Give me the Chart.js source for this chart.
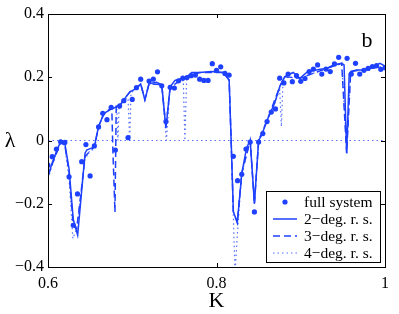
<!DOCTYPE html>
<html>
<head>
<meta charset="utf-8">
<script src="https://cdn.jsdelivr.net/npm/chart.js@4.4.1/dist/chart.umd.min.js"></script>
<style>
  html, body { margin: 0; padding: 0; background: #fff; }
  #wrap { width: 399px; height: 314px; }
</style>
</head>
<body>
<div id="wrap"><canvas id="chart" width="399" height="314"></canvas></div>
<script>
// full system (dots), K step 0.005 from 0.6 to 1 (null = no dot visible)
const fullK = [0.600,0.605,0.610,0.615,0.620,0.625,0.630,0.635,0.640,0.645,0.650,0.655,0.660,0.665,0.670,0.675,0.680,0.685,0.690,0.695,
  0.700,0.705,0.710,0.715,0.720,0.725,0.730,0.735,0.740,0.745,0.750,0.755,0.760,0.765,0.770,0.775,0.780,0.785,0.790,0.795,
  0.800,0.805,0.810,0.815,0.820,0.825,0.830,0.835,0.840,0.845,0.850,0.855,0.860,0.865,0.870,0.875,0.880,0.885,0.890,0.895,
  0.900,0.905,0.910,0.915,0.920,0.925,0.930,0.935,0.940,0.945,0.950,0.955,0.960,0.965,0.970,0.975,0.980,0.985,0.990,0.995,1.000];
const fullL = [-0.078,-0.051,-0.027,-0.004,-0.006,-0.115,-0.268,-0.169,-0.067,-0.013,-0.112,-0.017,0.043,0.086,0.066,0.105,-0.030,0.109,0.126,0.009,
  0.130,0.167,0.194,null,0.188,0.194,0.217,0.173,0.060,0.168,0.166,0.189,0.197,0.199,0.205,0.207,0.194,0.190,0.190,0.243,
  0.222,0.233,0.212,0.207,-0.050,-0.127,-0.107,-0.027,-0.005,-0.226,-0.005,0.022,0.060,0.090,0.100,0.197,0.182,0.210,0.186,0.205,
  0.187,0.196,0.218,0.226,0.239,0.210,0.226,0.218,0.242,0.263,null,0.260,0.210,0.244,0.210,0.222,0.228,0.234,0.237,0.225,0.230];

// 2-deg. reduced system (solid)
const deg2K = [0.600,0.605,0.610,0.6155,0.618,0.620,0.625,0.630,0.6352,0.639,0.644,0.646,0.655,0.660,0.6665,0.6736,0.6855,0.6914,0.6973,0.705,
  0.710,0.715,0.720,0.729,0.735,0.740,0.745,0.7507,0.7646,0.7705,0.780,0.794,0.808,0.812,0.815,0.8175,0.820,0.8247,0.830,0.8358,
  0.840,0.845,0.850,0.8536,0.861,0.869,0.875,0.881,0.891,0.899,0.907,0.915,0.923,0.931,0.9387,0.9486,0.9514,0.9545,0.9575,0.9593,
  0.966,0.974,0.982,0.994,1.000];
const deg2L = [-0.115,-0.070,-0.035,0.000,-0.007,-0.010,-0.090,-0.250,-0.299,-0.188,-0.040,-0.030,-0.020,0.044,0.086,0.097,0.112,0.134,0.154,0.165,
  0.179,0.128,0.180,0.184,0.176,0.039,0.170,0.190,0.200,0.215,0.215,0.218,0.215,0.202,0.191,-0.009,-0.225,-0.259,-0.104,-0.022,
  0.000,-0.200,0.000,0.017,0.070,0.118,0.170,0.202,0.215,0.197,0.215,0.221,0.225,0.228,0.239,0.244,0.239,-0.040,0.210,0.218,
  0.223,0.223,0.228,0.244,0.235];

// 3-deg. reduced system (dashed)
const deg3K = [0.600,0.610,0.6155,0.620,0.625,0.630,0.634,0.639,0.644,0.655,0.660,0.6665,0.6736,0.6757,0.677,0.6795,0.681,0.6855,0.6914,0.6973,
  0.705,0.710,0.715,0.720,0.735,0.740,0.745,0.7646,0.780,0.808,0.815,0.8175,0.820,0.8247,0.830,0.840,0.845,0.850,0.861,0.875,
  0.881,0.899,0.931,0.9486,0.9545,0.9593,1.000];
const deg3L = [-0.110,-0.040,-0.005,-0.015,-0.100,-0.270,-0.280,-0.170,-0.050,-0.020,0.044,0.086,0.100,0.105,-0.030,-0.227,0.110,0.112,0.134,0.154,
  0.165,0.179,0.130,0.180,0.176,0.040,0.170,0.200,0.215,0.215,0.191,-0.010,-0.225,-0.260,-0.104,0.000,-0.200,0.000,0.070,0.170,
  0.202,0.197,0.228,0.244,-0.040,0.218,0.235];

// 4-deg. reduced system (dotted)
const deg4K = [0.600,0.610,0.6155,0.620,0.625,0.6295,0.634,0.639,0.644,0.650,0.655,0.660,0.6665,0.6736,0.6815,0.683,0.6845,0.6914,0.695,0.697,
  0.6985,0.705,0.710,0.715,0.720,0.735,0.7405,0.745,0.7606,0.7625,0.7646,0.780,0.808,0.815,0.8175,0.822,0.8247,0.830,0.840,0.845,
  0.850,0.861,0.869,0.875,0.877,0.879,0.881,0.899,0.931,0.9486,0.9545,0.9593,1.000];
const deg4L = [-0.120,-0.040,-0.005,-0.020,-0.120,-0.310,-0.280,-0.170,-0.060,-0.030,-0.030,0.040,0.085,0.100,0.110,0.000,0.118,0.130,0.135,0.000,
  0.150,0.165,0.179,0.130,0.180,0.176,0.000,0.170,0.190,0.000,0.200,0.215,0.215,0.191,-0.020,-0.420,-0.300,-0.104,0.000,-0.200,
  0.000,0.070,0.118,0.160,0.044,0.190,0.200,0.197,0.228,0.244,-0.030,0.218,0.235];

const zeroK = [0.6, 1.0];
const zeroL = [0, 0];

const xTicks = [0.6, 0.8, 1.0];
const yTicks = [-0.4, -0.2, 0, 0.2, 0.4];

const legendNames = ["full system", "2\u2212deg. r. s.", "3\u2212deg. r. s.", "4\u2212deg. r. s."];

const blue = "rgb(30,64,255)";
const lightBlue = "rgba(30,64,255,0.75)";
const serif = "'Liberation Serif', 'DejaVu Serif', serif";

function pts(xs, ys) {
    return xs.map((x, i) => ({ x: x, y: ys[i] }));
}

function fmt(v) {
    if (Math.abs(v) < 1e-9) return "0";
    if (Math.abs(v - 1) < 1e-9) return "1";
    const s = Math.abs(v).toFixed(1);
    return v < 0 ? "\u2212" + s : s;
}

const frame = {
    id: "frame",
    afterDraw(chart) {
        const ctx = chart.ctx;
        const a = chart.chartArea;
        const xs = chart.scales.x;
        const ys = chart.scales.y;
        ctx.save();
        ctx.strokeStyle = "#000";
        ctx.lineWidth = 1;
        ctx.strokeRect(Math.round(a.left) + 0.5, Math.round(a.top) + 0.5,
            Math.round(a.right - a.left), Math.round(a.bottom - a.top));
        // inward ticks on all four sides
        xTicks.forEach(v => {
            const px = Math.round(xs.getPixelForValue(v)) + 0.5;
            ctx.beginPath();
            ctx.moveTo(px, a.bottom); ctx.lineTo(px, a.bottom - 4);
            ctx.moveTo(px, a.top); ctx.lineTo(px, a.top + 4);
            ctx.stroke();
        });
        yTicks.forEach(v => {
            const py = Math.round(ys.getPixelForValue(v)) + 0.5;
            ctx.beginPath();
            ctx.moveTo(a.left, py); ctx.lineTo(a.left + 4, py);
            ctx.moveTo(a.right, py); ctx.lineTo(a.right - 4, py);
            ctx.stroke();
        });

        // axis labels and panel letter
        ctx.fillStyle = "#000";
        ctx.textAlign = "center";
        ctx.textBaseline = "alphabetic";
        ctx.font = "22px " + serif;
        ctx.fillText("K", (a.left + a.right) / 2, 307);
        ctx.fillText("\u03bb", 10, 147);
        ctx.fillText("b", 367, 47);

        // legend box
        const bx = 266.5, by = 191.5, bw = 114, bh = 71;
        ctx.fillStyle = "#fff";
        ctx.fillRect(bx, by, bw, bh);
        ctx.strokeStyle = "#000";
        ctx.strokeRect(bx, by, bw, bh);
        const rows = [202, 219, 236, 253];
        ctx.font = "15.5px " + serif;
        ctx.textAlign = "left";
        ctx.textBaseline = "middle";
        rows.forEach((ry, i) => {
            ctx.fillStyle = "#000";
            ctx.fillText(legendNames[i], 304, ry + 1);
            ctx.strokeStyle = i === 3 ? lightBlue : blue;
            ctx.lineWidth = i === 3 ? 1.2 : 1.5;
            if (i === 0) {
                ctx.fillStyle = blue;
                ctx.beginPath();
                ctx.arc(285, ry, 2.6, 0, Math.PI * 2);
                ctx.fill();
            } else {
                ctx.setLineDash(i === 1 ? [] : (i === 2 ? [7, 4] : [1.5, 3]));
                ctx.beginPath();
                ctx.moveTo(273, ry); ctx.lineTo(297, ry);
                ctx.stroke();
                ctx.setLineDash([]);
            }
        });
        ctx.restore();
    }
};

new Chart(document.getElementById("chart"), {
    type: "scatter",
    data: {
        datasets: [
            { label: legendNames[0], data: pts(fullK, fullL), showLine: false,
              pointRadius: 2.6, pointBackgroundColor: blue, pointBorderWidth: 0 },
            { label: legendNames[1], data: pts(deg2K, deg2L), showLine: true, borderColor: blue,
              borderWidth: 1.5, pointRadius: 0, tension: 0 },
            { label: legendNames[2], data: pts(deg3K, deg3L), showLine: true, borderColor: blue,
              borderWidth: 1.5, borderDash: [7, 4], pointRadius: 0, tension: 0 },
            { label: legendNames[3], data: pts(deg4K, deg4L), showLine: true, borderColor: lightBlue,
              borderWidth: 1.2, borderDash: [1.5, 3], pointRadius: 0, tension: 0 },
            { label: "zero", data: pts(zeroK, zeroL), showLine: true, borderColor: lightBlue,
              borderWidth: 1.2, borderDash: [1.5, 3], pointRadius: 0 }
        ]
    },
    options: {
        responsive: false,
        animation: false,
        layout: { padding: { left: 0, right: 14, top: 14, bottom: 0 } },
        plugins: { legend: { display: false }, tooltip: { enabled: false } },
        scales: {
            x: {
                type: "linear", min: 0.6, max: 1.0,
                afterBuildTicks: s => { s.ticks = xTicks.map(v => ({ value: v })); },
                afterFit: s => { s.height = 47; },
                grid: { display: false, drawTicks: false },
                border: { display: false },
                ticks: { callback: fmt, padding: 7, color: "#000", font: { family: serif, size: 16 }, maxRotation: 0 }
            },
            y: {
                type: "linear", min: -0.4, max: 0.4,
                afterBuildTicks: s => { s.ticks = yTicks.map(v => ({ value: v })); },
                afterFit: s => { s.width = 48; },
                grid: { display: false, drawTicks: false },
                border: { display: false },
                ticks: { callback: fmt, padding: 4, color: "#000", font: { family: serif, size: 16 } }
            }
        }
    },
    plugins: [frame]
});
</script>
</body>
</html>
